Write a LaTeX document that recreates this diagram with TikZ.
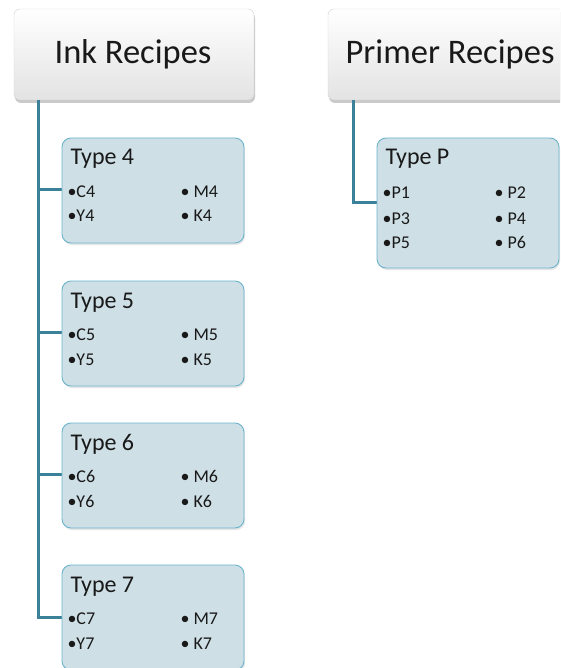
\documentclass[tikz,border=0pt]{standalone}
\usepackage{fontspec}
\setmainfont{Carlito}
\usetikzlibrary{shadows,positioning}
\definecolor{conn}{HTML}{3A8199}
\definecolor{boxfill}{HTML}{CEDFE6}
\definecolor{boxdraw}{HTML}{6CB4CC}
\tikzset{
  px/.style={x=1pt,y=-1pt},
  header/.style={draw=gray!35, rounded corners=6pt, top color=white, bottom color=gray!22,
    drop shadow={shadow xshift=1pt, shadow yshift=-3pt, fill=gray!70, opacity=0.6}},
  typebox/.style={draw=boxdraw, line width=0.9pt, fill=boxfill, rounded corners=9pt,
    drop shadow={shadow xshift=1pt, shadow yshift=-2pt, fill=gray!50, opacity=0.4}},
  connector/.style={draw=conn, line width=3pt},
  headtext/.style={font=\fontsize{34.5}{38}\selectfont, anchor=center, text=black!90},
  typetext/.style={font=\fontsize{24}{27}\selectfont, anchor=base west, text=black!90},
  itemtext/.style={font=\fontsize{18}{20}\selectfont, anchor=base west, text=black!90},
}
\begin{document}
\begin{tikzpicture}[px]
\useasboundingbox (0,0) rectangle (560,668);
\begin{scope}
\clip (0,0) rectangle (560,668);
% headers
\path[header] (14,9) rectangle (254,100);
\node[headtext] (ink) at (133,54) {Ink Recipes};
\coordinate (inkbot) at (38,100);
\path[header] (328,9) rectangle (600,100);
\node[headtext, anchor=west] (primer) at (342,54) {Primer Recipes};
\coordinate (primbot) at (353,100);
% connectors
\coordinate (j4) at (38,190);
\coordinate (j5) at (38,332);
\coordinate (j6) at (38,474);
\coordinate (t4l) at (62,190);
\coordinate (t5l) at (62,332);
\coordinate (t6l) at (62,474);
\coordinate (t7l) at (62,617);
\coordinate (tpl) at (377,203);
\draw[connector] (j4) -- (t4l);
\draw[connector] (j5) -- (t5l);
\draw[connector] (j6) -- (t6l);
\draw[connector, line join=miter] (inkbot) |- (t7l);
\draw[connector, line join=miter] (primbot) |- (tpl);
% type boxes
\foreach \n/\y in {4/138,5/281,6/423,7/565}{
  \path[typebox] (62,\y) rectangle (244,\y+105);
  \node[typetext] (type\n) at (67,\y+27) {Type \n};
  \node[itemtext] (c\n) at (64,\y+59) {•C\n};
  \node[itemtext] (m\n) at (177,\y+59) {• M\n};
  \node[itemtext] (y\n) at (64,\y+84) {•Y\n};
  \node[itemtext] (k\n) at (177,\y+84) {• K\n};
}
\path[typebox] (377,138) rectangle (559,268);
\node[typetext] (typep) at (382,165) {Type P};
\node[itemtext] (p1) at (379,198) {•P1};
\node[itemtext] (p2) at (491,198) {• P2};
\node[itemtext] (p3) at (379,224) {•P3};
\node[itemtext] (p4) at (491,224) {• P4};
\node[itemtext] (p5) at (379,248) {•P5};
\node[itemtext] (p6) at (491,248) {• P6};
\end{scope}
\end{tikzpicture}
\end{document}
